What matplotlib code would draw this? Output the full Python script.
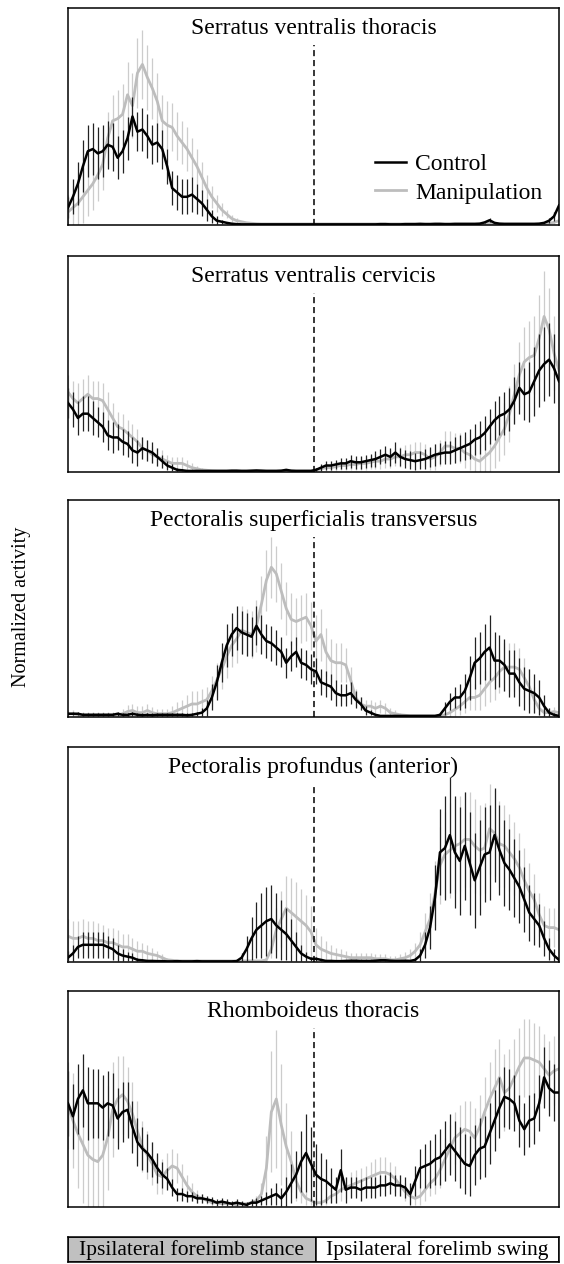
import matplotlib.pyplot as plt
import numpy as np

plt.rcParams['font.family'] = ['Liberation Serif', 'DejaVu Serif']

# phase of stride cycle, %
phase = np.arange(100)
swing_onset = 49.5

titles = ['Serratus ventralis thoracis',
          'Serratus ventralis cervicis',
          'Pectoralis superficialis transversus',
          'Pectoralis profundus (anterior)',
          'Rhomboideus thoracis']
series_names = ['Control', 'Manipulation']
phase_labels = ['Ipsilateral forelimb stance', 'Ipsilateral forelimb swing']
phase_start = [0, 50]
phase_len = [50, 49]

# --- Serratus ventralis thoracis
svt_ctrl = [8, 13, 19, 27, 34, 35, 33, 34, 37, 36,
            31, 34, 40, 50, 43, 44, 41, 37, 38, 35,
            27, 17, 15, 13, 13, 14, 12, 10, 7, 4,
            2, 1.5, 1, 0.6, 0.4, 0.3, 0.3, 0.3, 0.3, 0.3,
            0.3, 0.3, 0.3, 0.3, 0.3, 0.3, 0.3, 0.3, 0.3, 0.3,
            0.3, 0.3, 0.3, 0.3, 0.3, 0.3, 0.3, 0.3, 0.3, 0.3,
            0.3, 0.3, 0.3, 0.4, 0.4, 0.3, 0.3, 0.3, 0.4, 0.4,
            0.4, 0.5, 0.4, 0.4, 0.5, 0.5, 0.4, 0.4, 0.5, 0.5,
            0.5, 0.5, 0.5, 0.6, 1.2, 2.2, 1, 0.6, 0.5, 0.5,
            0.5, 0.5, 0.5, 0.5, 0.5, 0.6, 1, 2, 4, 9]
svt_ctrl_err = [5, 8, 10, 12, 12, 12, 12, 12, 11, 11,
                10, 10, 10, 9, 9, 10, 10, 9, 9, 9,
                8, 8, 8, 8, 8, 8, 7, 6, 5, 3,
                2, 1, 0.5, 0.3, 0.3, 0.3, 0.3, 0.3, 0.3, 0.3,
                0.3, 0.3, 0.3, 0.3, 0.3, 0.3, 0.3, 0.3, 0.3, 0.3,
                0.3, 0.3, 0.3, 0.3, 0.3, 0.3, 0.3, 0.3, 0.3, 0.3,
                0.3, 0.3, 0.3, 0.3, 0.3, 0.3, 0.3, 0.3, 0.3, 0.3,
                0.3, 0.3, 0.3, 0.3, 0.3, 0.3, 0.3, 0.3, 0.3, 0.3,
                0.3, 0.3, 0.3, 0.3, 0.5, 0.8, 0.5, 0.3, 0.3, 0.3,
                0.3, 0.3, 0.3, 0.3, 0.3, 0.3, 0.5, 1, 2, 3]
svt_manip = [6, 8, 10, 13, 16, 19, 23, 28, 40, 48,
             49, 51, 60, 55, 70, 74, 68, 63, 57, 48,
             46, 45, 41, 38, 35, 31, 27, 22, 17, 13,
             10, 7, 5, 3, 2, 1.5, 1, 0.8, 0.6, 0.5,
             0.5, 0.5, 0.5, 0.5, 0.5, 0.5, 0.5, 0.5, 0.5, 0.5,
             0.5, 0.5, 0.5, 0.5, 0.5, 0.5, 0.5, 0.5, 0.5, 0.5,
             0.5, 0.5, 0.5, 0.5, 0.5, 0.5, 0.5, 0.5, 0.5, 0.5,
             0.5, 0.5, 0.5, 0.5, 0.5, 0.5, 0.5, 0.5, 0.5, 0.5,
             0.5, 0.5, 0.5, 0.5, 0.7, 0.8, 0.6, 0.5, 0.5, 0.5,
             0.5, 0.5, 0.5, 0.5, 0.5, 0.5, 0.6, 0.8, 1.2, 2]
svt_manip_err = [8, 10, 11, 12, 12, 12, 12, 12, 12, 12,
                 13, 14, 15, 15, 16, 16, 15, 14, 13, 12,
                 11, 11, 11, 10, 10, 9, 8, 7, 6, 5,
                 4, 3, 2, 1.5, 1, 0.5, 0.3, 0.3, 0.3, 0.3,
                 0.3, 0.3, 0.3, 0.3, 0.3, 0.3, 0.3, 0.3, 0.3, 0.3,
                 0.3, 0.3, 0.3, 0.3, 0.3, 0.3, 0.3, 0.3, 0.3, 0.3,
                 0.3, 0.3, 0.3, 0.3, 0.3, 0.3, 0.3, 0.3, 0.3, 0.3,
                 0.3, 0.3, 0.3, 0.3, 0.3, 0.3, 0.3, 0.3, 0.3, 0.3,
                 0.3, 0.3, 0.3, 0.3, 0.3, 0.3, 0.3, 0.3, 0.3, 0.3,
                 0.3, 0.3, 0.3, 0.3, 0.3, 0.3, 0.3, 0.5, 0.8, 1]

# --- Serratus ventralis cervicis
svc_ctrl = [32, 29, 25, 27, 27, 25, 23, 21, 17, 16,
            16, 14, 13, 10, 9, 11, 10, 9, 7, 5,
            3, 2, 1, 0.8, 0.5, 0.5, 0.5, 0.5, 0.5, 0.5,
            0.5, 0.5, 0.5, 0.6, 0.6, 0.5, 0.5, 0.6, 0.7, 0.6,
            0.5, 0.5, 0.5, 0.6, 1, 0.6, 0.5, 0.5, 0.5, 0.5,
            1, 2, 3, 3, 3.5, 4, 4, 5, 4.5, 4.5,
            5, 5.5, 6, 7, 8, 7, 9, 7, 6, 5.5,
            5, 5.5, 6, 7, 8, 8.5, 9, 9, 10, 11,
            12, 13, 15, 16, 18, 21, 24, 26, 27, 29,
            33, 39, 36, 37, 42, 47, 50, 52, 48, 42]
svc_ctrl_err = [7, 8, 8, 8, 8, 8, 7, 7, 7, 7,
                6, 6, 6, 6, 6, 5, 5, 5, 4, 3,
                2, 1.5, 1, 0.5, 0.3, 0.3, 0.3, 0.3, 0.3, 0.3,
                0.3, 0.3, 0.3, 0.3, 0.3, 0.3, 0.3, 0.3, 0.3, 0.3,
                0.3, 0.3, 0.3, 0.3, 0.3, 0.3, 0.3, 0.3, 0.3, 0.3,
                1, 1.5, 2, 2, 2, 2.5, 2.5, 3, 3, 3,
                3, 3, 3.5, 3.5, 4, 4, 5, 4, 4, 4,
                4, 4, 4.5, 4.5, 5, 5, 5.5, 5.5, 6, 6,
                6.5, 7, 7, 7.5, 8, 8, 9, 9, 10, 10,
                11, 12, 12, 14, 16, 17, 17, 17, 16, 15]
svc_manip = [37, 34, 32, 34, 36, 34, 34, 33, 29, 25,
             21, 20, 18, 16, 14, 11, 10, 8, 7, 6,
             5, 4, 4, 4, 3, 2, 1.5, 1, 0.8, 0.6,
             0.5, 0.5, 0.5, 0.5, 0.5, 0.5, 0.5, 0.5, 0.5, 0.5,
             0.5, 0.5, 0.5, 0.5, 0.5, 0.5, 0.5, 0.5, 0.5, 0.5,
             1, 1.5, 2, 2, 2.5, 3, 3, 3.5, 3.5, 4,
             4, 4.5, 5, 5, 6, 6, 7, 7, 8, 8,
             9, 9, 8, 6, 7, 9, 12, 12, 11, 11,
             9, 8, 6, 5, 7, 9, 12, 16, 20, 27,
             36, 45, 51, 53, 54, 62, 72, 66, 55, 47]
svc_manip_err = [8, 8, 9, 9, 9, 8, 8, 8, 8, 7,
                 7, 7, 6, 6, 6, 5, 5, 4, 4, 4,
                 3, 3, 3, 3, 2.5, 2, 1.5, 1, 0.5, 0.3,
                 0.3, 0.3, 0.3, 0.3, 0.3, 0.3, 0.3, 0.3, 0.3, 0.3,
                 0.3, 0.3, 0.3, 0.3, 0.3, 0.3, 0.3, 0.3, 0.3, 0.3,
                 0.8, 1, 1.5, 1.5, 2, 2, 2, 2.5, 2.5, 3,
                 3, 3, 3.5, 3.5, 4, 4, 4, 4.5, 4.5, 5,
                 5, 5, 5, 5, 6, 6, 7, 7, 7, 7,
                 7, 7, 7, 8, 8, 9, 10, 11, 12, 13,
                 14, 15, 16, 17, 18, 20, 21, 19, 17, 15]

# --- Pectoralis superficialis transversus
pst_ctrl = [1.5, 1.5, 1.5, 1, 1, 1, 1, 1, 1, 1,
            1.5, 1, 1, 1.5, 1, 0.8, 1, 0.8, 1, 1,
            1, 1, 1, 1, 0.8, 1, 1.5, 2, 4, 9,
            16, 25, 33, 38, 41, 39, 38, 37, 42, 38,
            35, 34, 32, 30, 25, 28, 30, 25, 24, 22,
            21, 16, 15, 14, 11, 10, 10, 11, 8, 6,
            3, 2, 1, 0.5, 0.5, 0.5, 0.5, 0.5, 0.5, 0.5,
            0.5, 0.5, 0.5, 0.5, 0.5, 1, 4, 7, 9, 9,
            12, 18, 25, 27, 30, 32, 26, 26, 24, 20,
            20, 16, 13, 12, 11, 9, 5, 2, 1, 0.5]
pst_ctrl_err = [0.8, 0.8, 0.8, 0.8, 0.8, 0.8, 0.8, 0.8, 0.8, 0.8,
                1, 1, 1, 1, 1, 1, 1, 1, 1, 1,
                1, 1, 1, 1, 1, 1, 1, 2, 4, 6,
                8, 9, 10, 10, 10, 10, 10, 9, 9, 9,
                8, 8, 8, 7, 7, 7, 7, 7, 7, 7,
                6, 6, 6, 6, 6, 5, 5, 5, 4, 3,
                2, 1, 0.5, 0.3, 0.3, 0.3, 0.3, 0.3, 0.3, 0.3,
                0.3, 0.3, 0.3, 0.3, 0.3, 1, 3, 4, 5, 6,
                8, 10, 12, 12, 13, 15, 13, 12, 12, 11,
                11, 11, 10, 10, 9, 8, 5, 2, 1, 0.5]
pst_manip = [1.5, 1.5, 1, 1, 1, 1, 1, 1, 1, 1,
             1, 1.5, 2.5, 3, 2, 2, 3, 2, 1.5, 1.5,
             1.5, 2, 3, 4, 5, 6, 6, 7, 8, 12,
             17, 22, 28, 33, 36, 40, 39, 38, 42, 52,
             63, 69, 66, 58, 50, 45, 44, 45, 46, 42,
             35, 38, 30, 26, 25, 25, 24, 17, 9, 6,
             5, 5, 4, 5, 4, 2, 1.5, 1, 0.8, 0.5,
             0.5, 0.5, 0.5, 0.5, 0.5, 0.5, 1, 2, 3.5, 5,
             7, 9, 9, 10, 13, 16, 18, 21, 23, 23,
             23, 22, 18, 14, 8, 4, 2, 2, 2.5, 2]
pst_manip_err = [1.5, 1.5, 1.5, 1.5, 1.5, 1.5, 1.5, 1.5, 1.5, 1.5,
                 1.5, 2, 3, 3, 3, 3, 3, 2.5, 2, 2,
                 2, 3, 4, 4, 5, 6, 6, 6, 6, 7,
                 8, 9, 10, 10, 11, 11, 11, 11, 12, 13,
                 14, 14, 13, 13, 12, 12, 11, 11, 11, 11,
                 12, 12, 11, 10, 9, 9, 8, 6, 4, 3,
                 3, 3, 3, 3, 2.5, 2, 1.5, 1, 0.5, 0.3,
                 0.3, 0.3, 0.3, 0.3, 0.3, 0.3, 1, 2, 3, 4,
                 5, 6, 6, 7, 8, 9, 10, 10, 11, 11,
                 11, 10, 9, 8, 6, 3, 2, 2, 2, 2]

# --- Pectoralis profundus (anterior)
ppa_ctrl = [2, 4, 7, 8, 8, 8, 8, 8, 7, 6,
            4, 3, 2.5, 2, 1, 0.8, 0.5, 0.5, 0.4, 0.4,
            0.3, 0.3, 0.4, 0.3, 0.3, 0.3, 0.4, 0.3, 0.3, 0.3,
            0.3, 0.3, 0.3, 0.3, 0.4, 2, 6, 11, 15, 17,
            19, 20, 17, 15, 13, 10, 7, 4, 2.5, 1.5,
            1.5, 1, 0.5, 0.5, 0.4, 0.4, 0.5, 0.6, 0.6, 0.5,
            0.5, 0.5, 0.6, 0.8, 0.8, 0.6, 0.5, 0.5, 0.6, 0.5,
            1, 3, 8, 16, 30, 51, 53, 59, 51, 47,
            54, 46, 38, 44, 50, 51, 59, 52, 46, 43,
            39, 35, 29, 23, 20, 17, 11, 6, 3, 1]
ppa_ctrl_err = [3, 4, 5, 6, 6, 6, 6, 6, 5, 5,
                4, 3, 2, 2, 1, 0.5, 0.3, 0.3, 0.3, 0.3,
                0.3, 0.3, 0.3, 0.3, 0.3, 0.3, 0.3, 0.3, 0.3, 0.3,
                0.3, 0.3, 0.3, 0.3, 0.3, 2, 6, 10, 13, 15,
                16, 16, 15, 14, 12, 10, 7, 4, 2, 1,
                1, 0.5, 0.3, 0.3, 0.3, 0.3, 0.3, 0.3, 0.3, 0.3,
                0.3, 0.3, 0.3, 0.3, 0.3, 0.3, 0.3, 0.3, 0.3, 0.3,
                1, 3, 6, 10, 15, 20, 24, 27, 26, 25,
                25, 24, 22, 22, 22, 22, 22, 21, 20, 19,
                18, 17, 15, 13, 12, 10, 8, 5, 3, 1]
ppa_manip = [12, 11, 11, 12, 11, 11, 10, 10, 9, 9,
             8, 7, 7, 6, 5, 5, 4, 3.5, 3, 2,
             1, 0.8, 0.5, 0.5, 0.5, 0.5, 0.5, 0.5, 0.5, 0.5,
             0.5, 0.5, 0.5, 0.5, 0.5, 0.5, 0.5, 0.5, 0.5, 0.5,
             1, 6, 15, 20, 25, 23, 21, 19, 17, 14,
             8, 6, 5, 4, 3.5, 3, 2.5, 2, 2, 2,
             2, 2, 1.5, 1.5, 1.5, 1, 1, 1.5, 2, 3,
             5, 8, 14, 20, 32, 45, 50, 52, 54, 55,
             57, 57, 54, 52, 53, 62, 60, 55, 54, 51,
             48, 44, 38, 33, 29, 22, 17, 16, 16, 15]
ppa_manip_err = [8, 8, 8, 8, 8, 8, 8, 7, 7, 7,
                 7, 6, 6, 5, 5, 4, 4, 3, 2, 1.5,
                 1, 0.5, 0.3, 0.3, 0.3, 0.3, 0.3, 0.3, 0.3, 0.3,
                 0.3, 0.3, 0.3, 0.3, 0.3, 0.3, 0.3, 0.3, 0.3, 0.3,
                 1, 4, 10, 13, 15, 16, 16, 15, 14, 12,
                 8, 6, 5, 4, 3, 3, 2.5, 2, 2, 2,
                 2, 2, 2, 2, 2, 2, 2, 2, 2.5, 3,
                 4, 6, 9, 12, 15, 18, 20, 22, 22, 22,
                 22, 22, 22, 21, 21, 21, 20, 20, 19, 18,
                 17, 16, 15, 13, 12, 10, 9, 9, 9, 9]

# --- Rhomboideus thoracis
rt_ctrl = [48, 42, 50, 54, 48, 48, 48, 46, 48, 47,
           41, 44, 45, 37, 30, 27, 25, 22, 18, 15,
           13, 9, 6, 6, 5, 5, 4, 4, 3.5, 3,
           2, 2.5, 2, 1.5, 2, 1.5, 1, 2, 2, 3,
           4, 5, 6, 4, 7, 11, 15, 21, 25, 20,
           15, 13, 12, 10, 8, 17, 8, 9, 9, 8,
           9, 9, 9, 10, 10, 11, 10, 10, 9, 6,
           12, 18, 19, 20, 22, 23, 26, 29, 26, 23,
           20, 19, 24, 27, 28, 34, 40, 46, 51, 50,
           48, 40, 36, 40, 41, 48, 60, 55, 53, 53]
rt_ctrl_err = [15, 15, 16, 17, 17, 16, 16, 15, 15, 15,
               14, 14, 13, 12, 11, 10, 9, 8, 7, 6,
               5, 4, 3, 3, 2.5, 2, 2, 2, 1.5, 1.5,
               1.5, 1.5, 1.5, 1.5, 1.5, 1.5, 1.5, 1.5, 2, 2,
               3, 4, 5, 5, 7, 9, 11, 14, 18, 17,
               14, 12, 10, 8, 6, 10, 6, 5, 5, 5,
               5, 5, 5, 5, 5, 5, 5, 5, 5, 5,
               7, 9, 10, 11, 12, 13, 14, 14, 14, 14,
               14, 14, 14, 14, 14, 14, 14, 14, 14, 14,
               13, 12, 12, 12, 12, 13, 14, 13, 13, 13]
rt_manip = [47, 40, 34, 29, 24, 22, 21, 24, 32, 45,
            50, 52, 49, 43, 35, 28, 24, 20, 15, 14,
            17, 19, 18, 14, 10, 7, 5, 4, 3, 2,
            2, 1.5, 1.5, 1.5, 1, 1.5, 1.5, 2, 3, 6,
            18, 44, 50, 38, 28, 21, 12, 7, 4, 3,
            2, 2, 3, 5, 6, 8, 9, 10, 11, 12,
            13, 14, 15, 16, 16, 15, 13, 10, 7, 5,
            4, 5, 8, 11, 13, 17, 22, 27, 32, 34,
            36, 35, 32, 37, 44, 50, 55, 60, 53, 55,
            60, 65, 69, 69, 68, 67, 64, 61, 63, 64]
rt_manip_err = [20, 22, 25, 27, 27, 27, 25, 25, 24, 22,
                20, 18, 16, 15, 14, 12, 11, 10, 9, 8,
                8, 8, 7, 6, 5, 4, 3, 2, 1.5, 1.5,
                1, 1, 1, 1, 1, 1, 1, 1.5, 2, 5,
                15, 28, 32, 28, 20, 14, 9, 5, 3, 2,
                2, 2, 2, 3, 4, 5, 5, 6, 6, 6,
                6, 7, 7, 7, 7, 6, 6, 5, 4, 3,
                3, 4, 5, 6, 7, 8, 10, 11, 12, 13,
                13, 14, 14, 15, 16, 17, 18, 18, 18, 18,
                18, 18, 18, 18, 17, 17, 16, 16, 16, 16]

ctrl_list = [svt_ctrl, svc_ctrl, pst_ctrl, ppa_ctrl, rt_ctrl]
ctrl_err_list = [svt_ctrl_err, svc_ctrl_err, pst_ctrl_err, ppa_ctrl_err, rt_ctrl_err]
manip_list = [svt_manip, svc_manip, pst_manip, ppa_manip, rt_manip]
manip_err_list = [svt_manip_err, svc_manip_err, pst_manip_err, ppa_manip_err, rt_manip_err]

W, H = 564, 1264
fig = plt.figure(figsize=(W / 100, H / 100), dpi=100)

# panel boxes in pixels: (top, bottom)
panel_px = [(8, 225), (256, 472), (500, 717), (747, 962), (991, 1207)]
left_px, right_px = 68, 559


def px_rect(top, bottom):
    return [left_px / W, 1 - bottom / H, (right_px - left_px) / W, (bottom - top) / H]


for k, (top, bottom) in enumerate(panel_px):
    ax = fig.add_axes(px_rect(top, bottom))
    ctrl = np.array(ctrl_list[k])
    manip = np.array(manip_list[k])
    ax.errorbar(phase, manip, yerr=manip_err_list[k], fmt='none',
                ecolor='#cccccc', elinewidth=0.9, capsize=0, zorder=1)
    ax.plot(phase, manip, color='#bdbdbd', lw=2.0, zorder=2, label=series_names[1])
    ax.errorbar(phase, ctrl, yerr=ctrl_err_list[k], fmt='none',
                ecolor='#222222', elinewidth=0.9, capsize=0, zorder=3)
    ax.plot(phase, ctrl, color='black', lw=1.8, zorder=4, label=series_names[0])
    ax.axvline(swing_onset, ymin=0, ymax=0.83, color='black', lw=1.1,
               ls=(0, (4, 2.5)), zorder=5)
    ax.set_xlim(0, 99)
    ax.set_ylim(0, 100)
    ax.set_xticks([])
    ax.set_yticks([])
    for s in ax.spines.values():
        s.set_linewidth(1.1)
    ax.text(0.5, 0.905, titles[k], transform=ax.transAxes,
            ha='center', va='center', fontsize=17)
    if k == 0:
        h, l = ax.get_legend_handles_labels()
        ax.legend(h[::-1], l[::-1], loc='lower right', bbox_to_anchor=(0.985, 0.055),
                  frameon=False, fontsize=17, handlelength=1.3,
                  handletextpad=0.4, labelspacing=0.3, borderaxespad=0)

# stance / swing bar
bax = fig.add_axes(px_rect(1237, 1262))
bax.barh(0, phase_len, left=phase_start, height=1,
         color=['#c0c0c0', 'white'], edgecolor='black', linewidth=1.1)
for x0, w, lab in zip(phase_start, phase_len, phase_labels):
    bax.text(x0 + w / 2, -0.02, lab, ha='center', va='center', fontsize=15.5)
bax.set_xlim(0, 99)
bax.set_ylim(-0.5, 0.5)
bax.set_xticks([])
bax.set_yticks([])
for s in bax.spines.values():
    s.set_linewidth(1.1)

fig.text(22 / W, 1 - 607 / H, 'Normalized activity', rotation=90,
         ha='center', va='center', fontsize=14.5)

fig.savefig('out.png', dpi=100)
